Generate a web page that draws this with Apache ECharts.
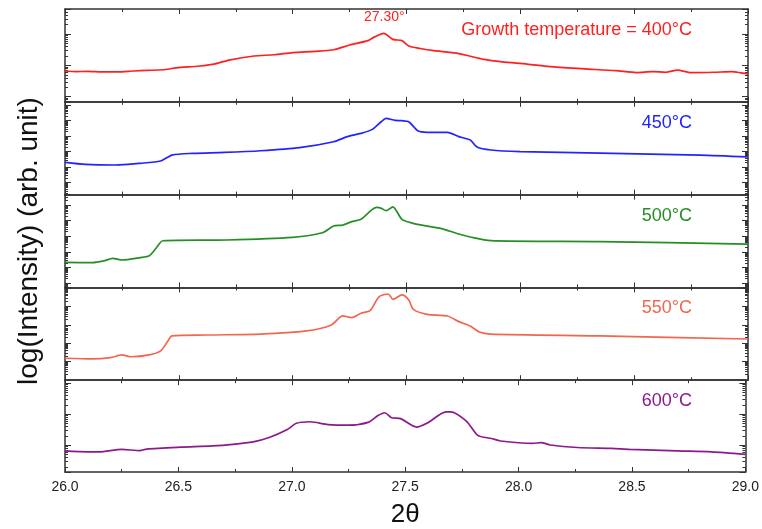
<!DOCTYPE html>
<html>
<head>
<meta charset="utf-8">
<script src="https://cdn.jsdelivr.net/npm/echarts@6/dist/echarts.min.js"></script>
<style>
  html, body { margin: 0; padding: 0; background: #fff; }
  #chart { width: 762px; height: 529px; }
</style>
</head>
<body>
<div id="chart"></div>
<script>
// XRD scans around 2θ = 26–29°, one panel per growth temperature.
// Intensities are given as log10(I) in arbitrary units.
const theta400 = [26.00, 26.05, 26.10, 26.17, 26.23, 26.30, 26.36, 26.43, 26.49, 26.59, 26.66, 26.72, 26.83, 26.92, 27.00, 27.10, 27.18, 27.25, 27.33, 27.36, 27.40, 27.44, 27.48, 27.51, 27.56, 27.62, 27.72, 27.84, 27.92, 28.03, 28.13, 28.28, 28.42, 28.51, 28.58, 28.64, 28.69, 28.75, 28.85, 28.93, 28.97, 29.00];
const logI400  = [0.82, 0.80, 0.81, 0.79, 0.79, 0.82, 0.84, 0.86, 0.92, 0.98, 1.05, 1.17, 1.30, 1.34, 1.41, 1.45, 1.50, 1.65, 1.79, 1.91, 2.02, 1.83, 1.79, 1.62, 1.54, 1.47, 1.39, 1.19, 1.11, 1.04, 0.96, 0.89, 0.83, 0.77, 0.80, 0.78, 0.85, 0.77, 0.78, 0.80, 0.76, 0.73];

const theta450 = [26.00, 26.09, 26.22, 26.33, 26.42, 26.47, 26.56, 26.70, 26.86, 27.03, 27.18, 27.24, 27.30, 27.35, 27.39, 27.41, 27.45, 27.48, 27.51, 27.55, 27.59, 27.68, 27.73, 27.78, 27.81, 27.87, 28.00, 28.35, 28.79, 29.00];
const logI450  = [1.31, 1.18, 1.14, 1.25, 1.40, 1.78, 1.89, 1.95, 2.06, 2.26, 2.64, 2.97, 3.18, 3.44, 3.95, 4.15, 4.02, 4.00, 3.93, 3.35, 3.25, 3.25, 2.97, 2.75, 2.30, 2.11, 2.01, 1.91, 1.78, 1.66];

const theta500 = [26.00, 26.12, 26.17, 26.21, 26.25, 26.33, 26.37, 26.40, 26.43, 26.71, 27.00, 27.13, 27.18, 27.22, 27.26, 27.30, 27.35, 27.37, 27.39, 27.41, 27.44, 27.48, 27.53, 27.59, 27.65, 27.73, 27.78, 27.87, 28.35, 29.00];
const logI500  = [1.34, 1.32, 1.43, 1.60, 1.49, 1.64, 1.76, 2.24, 2.72, 2.77, 2.94, 3.23, 3.66, 3.72, 3.94, 4.09, 4.73, 4.85, 4.79, 4.64, 4.89, 4.09, 3.83, 3.66, 3.51, 3.15, 2.96, 2.73, 2.67, 2.51];

const theta550 = [26.00, 26.12, 26.20, 26.25, 26.29, 26.37, 26.42, 26.45, 26.47, 26.62, 26.86, 27.06, 27.17, 27.22, 27.26, 27.30, 27.34, 27.38, 27.42, 27.44, 27.48, 27.51, 27.53, 27.59, 27.68, 27.73, 27.78, 27.82, 27.87, 28.35, 29.00];
const logI550  = [1.18, 1.14, 1.21, 1.36, 1.26, 1.36, 1.58, 2.08, 2.40, 2.45, 2.50, 2.67, 3.00, 3.49, 3.40, 3.64, 3.78, 4.54, 4.69, 4.40, 4.64, 4.36, 3.85, 3.58, 3.49, 3.18, 2.94, 2.61, 2.50, 2.40, 2.23];

const theta600 = [26.00, 26.10, 26.15, 26.25, 26.33, 26.36, 26.51, 26.65, 26.74, 26.83, 26.90, 26.98, 27.02, 27.08, 27.16, 27.25, 27.34, 27.38, 27.41, 27.44, 27.48, 27.55, 27.60, 27.68, 27.70, 27.77, 27.82, 27.88, 27.92, 28.06, 28.10, 28.14, 28.26, 28.41, 28.49, 28.70, 28.85, 29.00];
const logI600  = [-0.18, -0.21, -0.21, -0.13, -0.17, -0.12, -0.06, -0.02, 0.03, 0.11, 0.25, 0.51, 0.71, 0.76, 0.67, 0.65, 0.75, 0.96, 1.05, 0.89, 0.86, 0.59, 0.73, 1.08, 1.08, 0.78, 0.32, 0.22, 0.14, 0.06, 0.09, 0.01, -0.07, -0.10, -0.13, -0.18, -0.21, -0.29];

const panelLabels = ['Growth temperature = 400°C', '450°C', '500°C', '550°C', '600°C'];
const peakLabel = '27.30°';
const xTicks = { min: 26.0, max: 29.0, step: 0.5 };

// Per-panel settings: colour and visible log10 range of the axis
const panels = [
  { theta: theta400, logI: logI400, color: '#ff1f1f', range: [-0.163, 2.80] },
  { theta: theta450, logI: logI450, color: '#2323ff', range: [-0.77, 5.22] },
  { theta: theta500, logI: logI500, color: '#248f24', range: [-0.26, 5.67] },
  { theta: theta550, logI: logI550, color: '#f2664f', range: [-0.02, 5.05] },
  { theta: theta600, logI: logI600, color: '#8c1a8c', range: [-0.86, 2.10] }
];

const FONT = 'Liberation Sans, Arial, sans-serif';
const AXIS_COLOR = '#333';
const TOP = 9, PANEL_H = 92.8, LEFT = 65, RIGHT = 14;

const grids = [], xAxes = [], yAxes = [], series = [], graphics = [];

panels.forEach((p, i) => {
  const top = TOP + i * PANEL_H;
  grids.push({ left: LEFT, right: RIGHT, top: top, height: PANEL_H });
  const last = i === panels.length - 1;
  const xBase = {
    type: 'value', gridIndex: i,
    min: xTicks.min, max: xTicks.max, interval: xTicks.step,
    axisLine: { show: true, lineStyle: { color: AXIS_COLOR, width: 1.5 } },
    axisTick: { show: true, inside: true, length: 5, lineStyle: { color: AXIS_COLOR, width: 1 } },
    minorTick: { show: true, splitNumber: 2, length: 3, lineStyle: { color: AXIS_COLOR, width: 1 } },
    splitLine: { show: false }
  };
  xAxes.push(Object.assign({}, xBase, {
    position: 'bottom',
    axisLabel: last ? {
      show: true, margin: 8, fontSize: 14, color: '#222', fontFamily: FONT,
      formatter: v => v.toFixed(1)
    } : { show: false },
    name: last ? '2θ' : '',
    nameLocation: 'middle', nameGap: 30,
    nameTextStyle: { fontSize: 26, color: '#111', fontFamily: FONT }
  }));
  xAxes.push(Object.assign({}, xBase, { position: 'top', axisLabel: { show: false } }));

  const yBase = {
    type: 'log', logBase: 10, gridIndex: i,
    min: Math.pow(10, p.range[0]), max: Math.pow(10, p.range[1]),
    axisLine: { show: true, lineStyle: { color: AXIS_COLOR, width: 1.5 } },
    axisTick: { show: true, inside: true, length: 6, lineStyle: { color: AXIS_COLOR, width: 1 } },
    minorTick: { show: true, splitNumber: 9, length: 3, lineStyle: { color: AXIS_COLOR, width: 1 } },
    axisLabel: { show: false },
    splitLine: { show: false }
  };
  yAxes.push(Object.assign({}, yBase, {
    position: 'left',
    name: i === 2 ? 'log(Intensity) (arb. unit)' : '',
    nameLocation: 'middle', nameGap: 22,
    nameTextStyle: { fontSize: 28, color: '#111', fontFamily: FONT }
  }));
  yAxes.push(Object.assign({}, yBase, { position: 'right' }));

  series.push({
    type: 'line',
    xAxisIndex: i * 2, yAxisIndex: i * 2,
    data: p.theta.map((t, k) => [t, Math.pow(10, p.logI[k])]),
    showSymbol: false, smooth: 0.25,
    lineStyle: { color: p.color, width: 1.7 },
    silent: true, animation: false
  });

  graphics.push({
    type: 'text', right: 762 - 692, top: top + (i === 0 ? 12 : 12),
    style: { text: panelLabels[i], fill: p.color, font: '18px ' + FONT }
  });
});

graphics.push({
  type: 'text', left: 364, top: 10,
  style: { text: peakLabel, fill: panels[0].color, font: '14px ' + FONT }
});

const chart = echarts.init(document.getElementById('chart'), null, { renderer: 'canvas' });
chart.setOption({
  backgroundColor: '#fff',
  animation: false,
  grid: grids,
  xAxis: xAxes,
  yAxis: yAxes,
  series: series,
  graphic: graphics
});
</script>
</body>
</html>
